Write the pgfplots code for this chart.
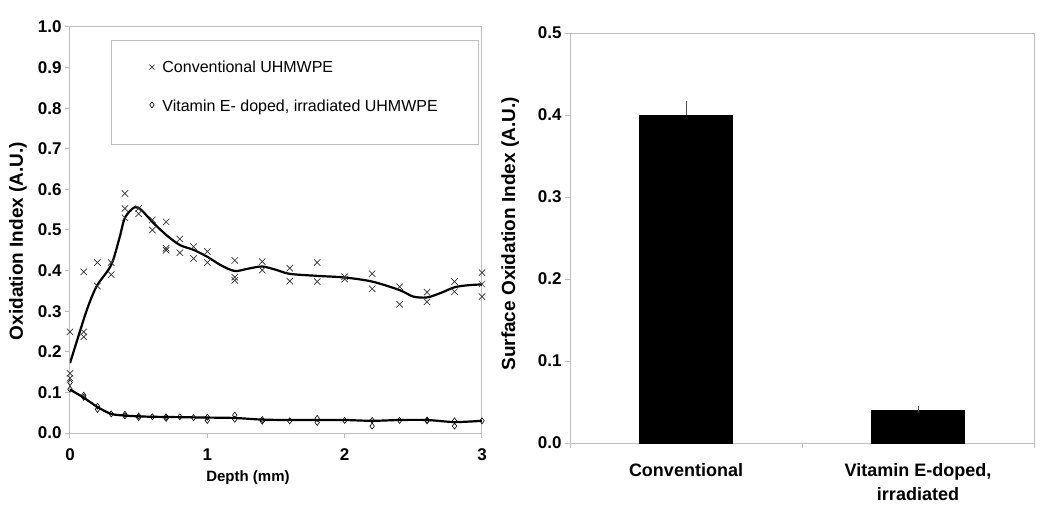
\documentclass[border=0pt]{standalone}
\usepackage{fontspec}
\setmainfont{Liberation Sans}
\usepackage{pgfplots}
\pgfplotsset{compat=1.18}
\definecolor{axgray}{RGB}{190,190,190}
\begin{document}
\begin{tikzpicture}[x=1pt,y=1pt]
\path[use as bounding box] (0,0) rectangle (1050,512);
\begin{axis}[
  at={(70pt,79pt)}, anchor=south west, scale only axis,
  width=412pt, height=406pt,
  xmin=0, xmax=3, ymin=0, ymax=1,
  axis line style={axgray, line width=1pt},
  xtick={0,1,2,3}, ytick={0,0.1,0.2,0.3,0.4,0.5,0.6,0.7,0.8,0.9,1.0},
  tick align=outside, tick pos=left, major tick length=5pt,
  tick style={axgray, line width=1pt},
  /pgf/number format/assume math mode=true,
  yticklabel style={/pgf/number format/.cd, fixed, fixed zerofill, precision=1},
  ticklabel style={font=\fontsize{17}{20}\selectfont\bfseries},
  xticklabel style={yshift=-7pt},
  xlabel={Depth (mm)},
  xlabel style={font=\fontsize{15}{18}\selectfont\bfseries, at={(axis description cs:0.432,-0.110)}, anchor=center},
  ylabel={Oxidation Index (A.U.)},
  ylabel style={font=\fontsize{19}{22}\selectfont\bfseries, at={(axis description cs:-0.126,0.473)}, anchor=center, rotate=0},
  legend style={at={(axis description cs:0.0995,0.968)}, anchor=north west,
    draw=axgray, line width=1pt, inner xsep=38pt, inner ysep=18pt, row sep=22pt,
    font=\fontsize{16}{19}\selectfont},
  legend cell align=left,
]
\addplot[only marks, mark=x, mark size=4.5pt, mark options={line width=0.7pt, draw=black!80},
  legend image post style={mark size=3.5pt}] coordinates {
(0,0.249) (0,0.147) (0,0.135)
(0.1,0.397) (0.1,0.249) (0.1,0.237)
(0.2,0.420) (0.2,0.362)
(0.3,0.420) (0.3,0.390)
(0.4,0.590) (0.4,0.553) (0.4,0.530)
(0.5,0.553) (0.5,0.540)
(0.6,0.525) (0.6,0.500)
(0.7,0.520) (0.7,0.455) (0.7,0.450)
(0.8,0.478) (0.8,0.444)
(0.9,0.459) (0.9,0.430)
(1.0,0.447) (1.0,0.420)
(1.2,0.425) (1.2,0.384) (1.2,0.376)
(1.4,0.422) (1.4,0.401)
(1.6,0.406) (1.6,0.374)
(1.8,0.420) (1.8,0.373)
(2.0,0.385) (2.0,0.379)
(2.2,0.392) (2.2,0.355)
(2.4,0.360) (2.4,0.317)
(2.6,0.347) (2.6,0.323)
(2.8,0.373) (2.8,0.348)
(3.0,0.395) (3.0,0.367) (3.0,0.336)
};
\addlegendentry{\hspace{6pt}\makebox[276pt][l]{Conventional UHMWPE}}
\addplot[only marks, mark=diamond, mark size=3pt, mark options={line width=0.6pt, draw=black, fill=white},
  legend image post style={mark size=3pt, yshift=7pt}] coordinates {
(0,0.124) (0,0.108)
(0.1,0.093) (0.1,0.088)
(0.2,0.066) (0.2,0.058)
(0.3,0.047)
(0.4,0.046) (0.4,0.042)
(0.5,0.042) (0.5,0.038)
(0.6,0.040)
(0.7,0.040) (0.7,0.036)
(0.8,0.040)
(0.9,0.038)
(1.0,0.039) (1.0,0.031)
(1.2,0.044) (1.2,0.034)
(1.4,0.033) (1.4,0.029)
(1.6,0.030)
(1.8,0.036) (1.8,0.026)
(2.0,0.031)
(2.2,0.031) (2.2,0.017)
(2.4,0.031)
(2.6,0.032) (2.6,0.030)
(2.8,0.030) (2.8,0.017)
(3.0,0.030)
};
\addlegendentry[text depth=13pt]{\hspace{6pt}\makebox[276pt][l]{Vitamin E- doped, irradiated UHMWPE}}
\addplot[forget plot, black, line width=2.2pt, smooth, tension=0.5, no marks] coordinates {
(0,0.172) (0.1,0.28) (0.15,0.328) (0.2,0.365) (0.3,0.414) (0.36,0.48) (0.4,0.53)
(0.47,0.556) (0.52,0.549) (0.6,0.52) (0.7,0.488) (0.8,0.463) (0.9,0.451) (1.0,0.434)
(1.1,0.413) (1.2,0.399) (1.3,0.405) (1.4,0.410) (1.5,0.402) (1.6,0.392) (1.8,0.387)
(2.0,0.383) (2.2,0.373) (2.4,0.352) (2.5,0.336) (2.6,0.334) (2.7,0.345) (2.8,0.359)
(2.9,0.364) (3.0,0.366)
};
\addplot[forget plot, black, line width=2.2pt, smooth, tension=0.5, no marks] coordinates {
(0,0.107) (0.1,0.087) (0.2,0.064) (0.3,0.047) (0.4,0.043) (0.5,0.041) (0.6,0.040)
(0.8,0.039) (1.0,0.038) (1.2,0.037) (1.4,0.033) (1.6,0.032) (1.8,0.032) (2.0,0.032)
(2.2,0.030) (2.4,0.032) (2.6,0.032) (2.8,0.027) (3.0,0.030)
};
\end{axis}

\begin{axis}[
  at={(570pt,69pt)}, anchor=south west, scale only axis,
  width=464pt, height=410pt,
  xmin=-0.5, xmax=1.5, ymin=0, ymax=0.5,
  axis line style={axgray, line width=1pt},
  ytick={0,0.1,0.2,0.3,0.4,0.5},
  xtick={-0.5,0.5,1.5}, xticklabels={},
  extra x ticks={0,1},
  extra x tick labels={Conventional,{Vitamin E-doped,\\irradiated}},
  extra x tick style={major tick length=0pt, tick style={draw=none},
    xticklabel style={font=\fontsize{18}{24}\selectfont\bfseries, align=center, anchor=north, yshift=-17pt}},
  tick align=outside, tick pos=left, major tick length=5pt,
  tick style={axgray, line width=1pt},
  /pgf/number format/assume math mode=true,
  yticklabel style={/pgf/number format/.cd, fixed, fixed zerofill, precision=1},
  ticklabel style={font=\fontsize{17}{20}\selectfont\bfseries},
  ylabel={Surface Oxidation Index (A.U.)},
  ylabel style={font=\fontsize{19}{22}\selectfont\bfseries, at={(axis description cs:-0.129,0.51)}, anchor=center},
]
\addplot[ybar, bar width=0.4, bar shift=0pt, fill=black, draw=black,
  error bars/.cd, y dir=plus, y explicit,
  error bar style={line width=1pt, black!70},
  error mark options={line width=1pt, black!70, mark size=3.5pt}]
  coordinates {(0,0.400) +- (0,0.013) (1,0.040) +- (0,0.001)};
\end{axis}
\end{tikzpicture}
\end{document}
